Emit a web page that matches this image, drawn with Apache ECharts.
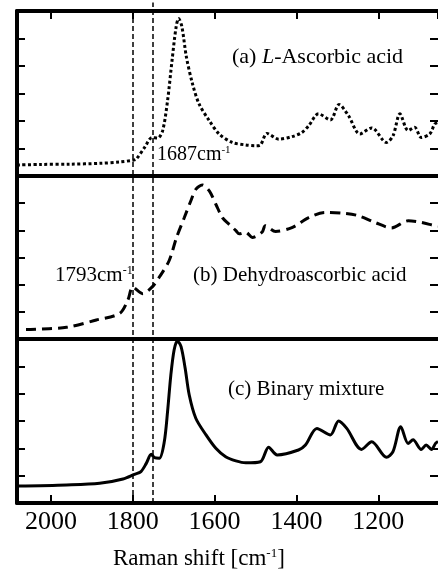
<!DOCTYPE html>
<html>
<head>
<meta charset="utf-8">
<script src="https://cdn.jsdelivr.net/npm/echarts@6/dist/echarts.min.js"></script>
<style>
  html, body { margin: 0; padding: 0; background: #fff; }
  #chart { width: 438px; height: 576px; }
</style>
</head>
<body>
<div id="chart"></div>
<script>
// (a) L-Ascorbic acid, dotted
const waveA = [2083, 2027, 1954, 1881, 1832, 1801, 1792, 1771, 1753, 1739, 1727, 1715, 1704, 1694, 1688, 1680,
  1669, 1654, 1638, 1613, 1589, 1557, 1524, 1500, 1488, 1472, 1443, 1411, 1387, 1370, 1346, 1317, 1296, 1273,
  1245, 1216, 1180, 1164, 1147, 1127, 1111, 1095, 1074, 1062, 1054];
const intA = [0.40, 0.42, 0.43, 0.46, 0.51, 0.57, 0.61, 1.04, 1.40, 1.38, 1.65, 2.74, 4.21, 5.43, 5.73, 5.43,
  4.33, 3.35, 2.62, 2.01, 1.53, 1.22, 1.13, 1.10, 1.13, 1.55, 1.34, 1.43, 1.58, 1.83, 2.26, 2.04, 2.60, 2.20,
  1.53, 1.75, 1.22, 1.46, 2.26, 1.65, 1.77, 1.40, 1.53, 1.89, 1.95];

// (b) Dehydroascorbic acid, dashed
const waveB = [2061, 1962, 1889, 1832, 1812, 1800, 1776, 1753, 1735, 1711, 1693, 1674, 1658, 1646, 1630, 1613,
  1597, 1581, 1565, 1548, 1540, 1524, 1508, 1484, 1476, 1451, 1411, 1370, 1330, 1281, 1249, 1208, 1168, 1127,
  1095, 1062, 1054];
const intB = [0.35, 0.43, 0.70, 0.94, 1.43, 1.91, 1.67, 1.91, 2.28, 2.89, 3.74, 4.47, 5.09, 5.51, 5.67, 5.45,
  4.96, 4.47, 4.23, 3.99, 3.87, 3.93, 3.74, 3.93, 4.17, 3.96, 4.10, 4.47, 4.66, 4.62, 4.54, 4.29, 4.09, 4.35,
  4.29, 4.17, 4.15];

// (c) Binary mixture, solid
const waveC = [2083, 1962, 1881, 1824, 1796, 1780, 1767, 1755, 1747, 1735, 1723, 1715, 1707, 1699, 1691, 1682,
  1672, 1662, 1646, 1621, 1597, 1573, 1548, 1524, 1488, 1468, 1447, 1395, 1378, 1350, 1317, 1297, 1277, 1241,
  1216, 1180, 1164, 1145, 1127, 1115, 1095, 1083, 1070, 1060, 1054];
const intC = [0.62, 0.66, 0.72, 0.88, 1.05, 1.15, 1.45, 1.78, 1.66, 1.64, 2.24, 3.34, 4.68, 5.60, 5.93, 5.72,
  4.93, 3.95, 3.10, 2.49, 2.00, 1.69, 1.54, 1.47, 1.51, 2.04, 1.76, 1.94, 2.12, 2.73, 2.49, 3.00, 2.73, 1.96,
  2.24, 1.67, 1.88, 2.79, 2.18, 2.31, 1.96, 2.12, 1.96, 2.18, 2.25];

const xTicks = [2000, 1800, 1600, 1400, 1200];
const refLines = [1799, 1752];

const serif = 'Liberation Serif, Times New Roman, serif';
const chart = echarts.init(document.getElementById('chart'));

const panels = [
  { top: 11, height: 165 },
  { top: 176, height: 163 },
  { top: 339, height: 164 }
];

const axisLine = { show: true, onZero: false, lineStyle: { color: '#000', width: 4 } };
const tick = { show: true, inside: true, length: 8, lineStyle: { color: '#000', width: 2 } };

function xAxisFor(gridIndex, opts) {
  return Object.assign({
    gridIndex: gridIndex,
    type: 'value',
    min: 1054,
    max: 2083,
    inverse: true,
    minInterval: 200,
    maxInterval: 200,
    axisLine: axisLine,
    axisTick: { show: false },
    axisLabel: { show: false },
    splitLine: { show: false }
  }, opts);
}

function yAxisFor(gridIndex, position) {
  return {
    gridIndex: gridIndex,
    type: 'value',
    position: position,
    min: 0,
    max: 6,
    interval: 1,
    // the right frame edge falls outside the picture, only its ticks show
    axisLine: position === 'left' ? axisLine : { show: false },
    axisTick: tick,
    axisLabel: { show: false },
    splitLine: { show: false }
  };
}

const grid = panels.map(p => ({ left: 17, right: -2, top: p.top, height: p.height }));
grid.push({ left: 17, right: -2, top: 0, height: 503 });

const xAxis = [
  xAxisFor(0),
  xAxisFor(1),
  xAxisFor(2, {
    axisTick: tick,
    axisLabel: {
      show: true,
      margin: 6,
      color: '#000',
      fontFamily: serif,
      fontSize: 26,
      showMinLabel: false,
      showMaxLabel: false,
      formatter: v => (xTicks.indexOf(v) >= 0 ? String(v) : '')
    }
  }),
  xAxisFor(0, { position: 'top', axisTick: tick }),
  xAxisFor(3, { show: false })
];

const yAxis = [
  yAxisFor(0, 'left'), yAxisFor(1, 'left'), yAxisFor(2, 'left'),
  yAxisFor(0, 'right'), yAxisFor(1, 'right'), yAxisFor(2, 'right'),
  { gridIndex: 3, type: 'value', min: 0, max: 1, show: false }
];

function pairs(w, v) {
  return w.map((x, i) => [x, v[i]]);
}

const series = [
  {
    type: 'line', xAxisIndex: 0, yAxisIndex: 0, data: pairs(waveA, intA),
    showSymbol: false, smooth: 0.3, silent: true,
    lineStyle: { color: '#000', width: 3, type: [3, 2.5] }
  },
  {
    type: 'line', xAxisIndex: 1, yAxisIndex: 1, data: pairs(waveB, intB),
    showSymbol: false, smooth: 0.3, silent: true,
    lineStyle: { color: '#000', width: 3, type: [10, 6] }
  },
  {
    type: 'line', xAxisIndex: 2, yAxisIndex: 2, data: pairs(waveC, intC),
    showSymbol: false, smooth: 0.3, silent: true,
    lineStyle: { color: '#000', width: 3 }
  },
  {
    type: 'line', xAxisIndex: 4, yAxisIndex: 6, data: [],
    markLine: {
      silent: true,
      symbol: 'none',
      label: { show: false },
      lineStyle: { color: '#000', width: 1.5, type: [5, 3] },
      data: [
        [{ coord: [refLines[0], 0] }, { coord: [refLines[0], 0.978] }],
        [{ coord: [refLines[1], 0] }, { coord: [refLines[1], 0.995] }]
      ]
    }
  }
];

function label(x, y, text, size) {
  return {
    type: 'text',
    x: x,
    y: y,
    z: 10,
    style: {
      text: text,
      fill: '#000',
      verticalAlign: 'middle',
      font: size + 'px ' + serif,
      rich: {
        t: { fontFamily: serif, fontSize: size, lineHeight: size },
        i: { fontFamily: serif, fontSize: size, fontStyle: 'italic', lineHeight: size },
        s: { fontFamily: serif, fontSize: Math.round(size * 0.55), verticalAlign: 'top', lineHeight: Math.round(size * 0.55) }
      }
    }
  };
}

chart.setOption({
  backgroundColor: '#fff',
  animation: false,
  grid: grid,
  xAxis: xAxis,
  yAxis: yAxis,
  series: series,
  graphic: [
    label(232, 57, '{t|(a) }{i|L}{t|-Ascorbic acid}', 22),
    label(157, 155, '{t|1687cm}{s|-1}', 20),
    label(55, 275, '{t|1793cm}{s|-1}', 21),
    label(193, 275, '{t|(b) Dehydroascorbic acid}', 21),
    label(228, 389, '{t|(c) Binary mixture}', 21),
    label(113, 559, '{t|Raman shift [cm}{s|-1}{t|]}', 23)
  ]
});

window.addEventListener('resize', () => {
  chart.resize();
});
</script>
</body>
</html>
